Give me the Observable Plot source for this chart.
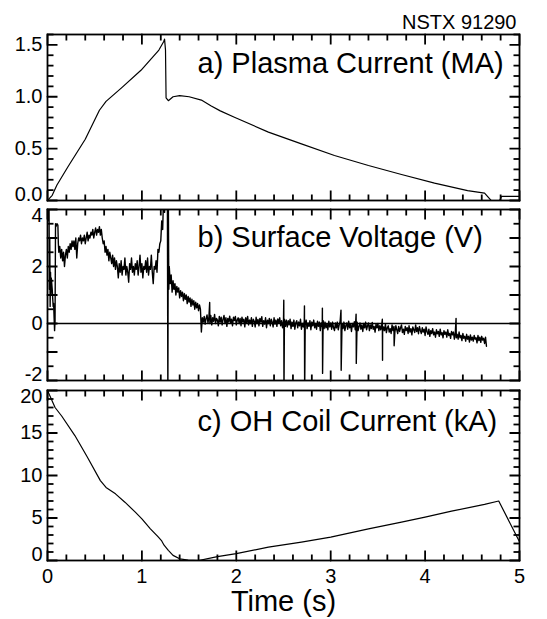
<!DOCTYPE html>
<html><head><meta charset="utf-8">
<script src="https://cdn.jsdelivr.net/npm/d3@7"></script>
<script src="https://cdn.jsdelivr.net/npm/@observablehq/plot@0.6"></script>
<style>
body{margin:0;background:#fff;}
#chart{position:relative;width:547px;height:619px;font-family:"Liberation Sans",Arial,Helvetica,sans-serif;}
#chart svg{position:absolute;left:0;overflow:visible;}
</style></head><body><div id="chart"></div>
<script>
// ---- data ----
const shotLabel = "NSTX 91290";
const xAxisLabel = "Time (s)";
const titles = ["a) Plasma Current (MA)", "b) Surface Voltage (V)", "c) OH Coil Current (kA)"];
const timeTicks = [0, 1, 2, 3, 4, 5];
const ipTicks = [0, 0.5, 1.0, 1.5];
const vTicks = [-2, 0, 2, 4];
const ohTicks = [0, 5, 10, 15, 20];

// a) plasma current (MA)
const ipTime = [0, 0.05, 0.10, 0.22, 0.40, 0.55, 0.62, 0.79, 0.99, 1.18, 1.23, 1.24, 1.25, 1.256, 1.28, 1.33, 1.40, 1.50, 1.63, 1.73, 1.83, 1.98, 2.34, 2.69, 3.04, 3.40, 3.75, 4.10, 4.45, 4.63, 4.70, 4.76, 4.79, 4.81, 5.0];
const ipValue = [0, 0.05, 0.15, 0.33, 0.59, 0.87, 0.955, 1.09, 1.255, 1.45, 1.53, 1.555, 1.45, 0.99, 0.962, 1.0, 1.011, 1.0, 0.968, 0.913, 0.864, 0.803, 0.659, 0.546, 0.434, 0.337, 0.251, 0.167, 0.096, 0.071, 0.0, -0.02, 0.0, 0.04, 0.04];

// b) surface voltage (V): irregular points
const vPointTime = [0, 0.008, 0.012, 0.016, 0.02, 0.024, 0.028, 0.032, 0.036, 0.04, 0.045, 0.05, 0.055, 0.06, 0.065, 0.07, 0.075, 0.08, 0.085, 0.09, 0.10, 0.11, 0.115, 0.12, 0.13,
  1.17, 1.18, 1.19, 1.20, 1.21, 1.22, 1.23, 1.24, 1.25, 1.26, 1.27, 1.275, 1.28, 1.285, 1.63];
const vPointVolt = [4.5, 4.3, 3.6, 4.4, 1.2, 3.0, 0.6, 1.8, 1.0, 1.6, 1.4, 1.2, 0.9, 0.6, 0.7, 0.2, -0.25, 0.1, 3.5, 3.4, 3.5, 3.45, 2.8, 2.5, 2.7,
  2.6, 2.5, 2.8, 2.9, 3.6, 3.3, 4.5, 3.9, 4.5, 4.5, 4.5, -2.5, 4.5, 1.2, -0.3];
const vSampleStep = 0.01;
const vStartA = 0.14;
const vSampleA = [
  2.3, 2.6, 2.2, 2.5, 2.0, 2.4, 2.6, 2.3, 2.7, 2.5,
  2.8, 2.6, 2.9, 2.7, 2.9, 2.6, 3.0, 2.3, 2.8, 3.0,
  2.9, 3.1, 2.8, 3.0, 2.9, 3.1, 2.8, 3.0, 3.2, 2.9,
  3.1, 3.0, 3.2, 3.1, 3.3, 3.0, 3.2, 3.35, 3.1, 3.3,
  3.2, 3.4, 3.1, 3.3, 3.0, 2.8, 2.9, 2.5, 2.7, 2.4,
  2.6, 2.2, 2.5, 2.3, 2.1, 2.4, 2.0, 2.3, 1.9, 2.2,
  2.0, 1.6, 2.1, 1.8, 2.2, 1.7, 2.0, 1.9, 2.3, 1.7,
  2.0, 1.8, 1.45, 2.1, 1.9, 2.3, 1.8, 2.0, 1.7, 2.1,
  1.9, 2.2, 1.7, 2.0, 2.4, 1.8, 2.1, 1.6, 2.0, 1.9,
  2.2, 1.8, 2.3, 1.7, 2.0, 1.9, 2.4, 1.8, 1.4, 2.0,
  1.9, 2.2, 1.8];
const vStartB = 1.29;
const vSampleB = [
  2.0, 1.4, 1.7, 1.1, 1.5, 1.2, 1.4, 1.0, 1.3, 1.1,
  1.25, 0.9, 1.15, 0.95, 1.1, 0.8, 1.05, 0.85, 1.0, 0.7,
  0.95, 0.75, 0.9, 0.6, 0.85, 0.65, 0.8, 0.5, 0.75, 0.55,
  0.7, 0.45, 0.65, 0.5];
const vStartC = 1.64;
const vSampleC = [
  0.20, 0.05, 0.25, -0.02, 0.18, 0.30, 0.02, 0.22, 0.10, 0.28,
  -0.05, 0.20, 0.08, 0.32, 0.00, 0.18, 0.12, -0.08, 0.25, 0.05,
  0.22, -0.05, 0.15, 0.28, 0.00, 0.20, -0.10, 0.18, 0.05, 0.26,
  0.02, 0.15, -0.08, 0.22, 0.10, 0.25, -0.05, 0.12, 0.20, 0.00,
  0.18, -0.08, 0.22, 0.05, 0.15, -0.12, 0.20, 0.02, 0.25, -0.05,
  0.12, 0.00, 0.20, -0.10, 0.15, 0.08, -0.12, 0.22, 0.00, 0.14,
  -0.08, 0.18, 0.05, 0.24, -0.10, 0.10, -0.02, 0.20, -0.15, 0.12,
  0.00, 0.18, -0.08, 0.15, 0.05, -0.12, 0.20, -0.02, 0.12, -0.10,
  0.16, 0.02, 0.20, -0.08, 0.10, -0.15, 0.08, 0.15, -0.10, 0.12,
  -0.12, 0.10, -0.05, 0.15, -0.18, 0.05, -0.10, 0.12, -0.20, 0.02,
  0.10, -0.15, 0.05, -0.08, 0.15, -0.20, 0.00, -0.12, 0.08, -0.05,
  0.12, -0.18, 0.02, -0.10, 0.10, -0.22, 0.05, -0.08, 0.12, -0.15,
  0.00, -0.20, 0.08, -0.10, 0.05, -0.25, 0.02, -0.12, 0.10, -0.18,
  0.05, -0.15, -0.02, -0.22, 0.08, -0.12, 0.02, -0.20, 0.05, -0.15,
  -0.25, 0.02, -0.15, 0.05, -0.22, -0.05, 0.08, -0.20, 0.00, -0.18,
  0.05, -0.25, -0.08, 0.02, -0.20, 0.08, -0.15, -0.02, -0.28, 0.00,
  -0.12, 0.06, -0.22, -0.05, 0.05, -0.25, -0.10, 0.02, -0.20, -0.05,
  -0.28, 0.00, -0.15, 0.05, -0.22, -0.08, 0.02, -0.25, -0.05, -0.18,
  0.04, -0.20, -0.10, -0.30, -0.02, -0.15, 0.00, -0.25, -0.08, -0.22,
  -0.05, -0.30, -0.12, -0.25, -0.02, -0.32, -0.15, -0.08, -0.30, -0.18,
  -0.35, -0.05, -0.25, -0.12, -0.30, -0.08, -0.22, -0.35, -0.10, -0.28,
  -0.15, -0.05, -0.32, -0.20, -0.38, -0.10, -0.25, -0.15, -0.35, -0.08,
  -0.30, -0.18, -0.40, -0.12, -0.22, -0.32, -0.05, -0.28, -0.15, -0.36,
  -0.10, -0.25, -0.35, -0.15, -0.30, -0.20, -0.42, -0.12, -0.28, -0.38,
  -0.20, -0.45, -0.25, -0.35, -0.18, -0.40, -0.30, -0.48, -0.22, -0.36,
  -0.28, -0.45, -0.20, -0.40, -0.32, -0.50, -0.25, -0.38, -0.30, -0.48,
  -0.22, -0.42, -0.35, -0.52, -0.28, -0.40, -0.30, -0.55, -0.32, -0.45,
  -0.38, -0.55, -0.30, -0.50, -0.42, -0.60, -0.35, -0.52, -0.45, -0.62,
  -0.38, -0.55, -0.45, -0.65, -0.40, -0.58, -0.48, -0.62, -0.42, -0.55,
  -0.50, -0.68, -0.42, -0.60, -0.48, -0.66, -0.45, -0.58, -0.52, -0.70,
  -0.48, -0.80];
const spikeTime = [1.72, 2.505, 2.724, 2.914, 3.111, 3.271, 3.549, 3.672, 4.33];
const spikeHigh = [0.74, 0.82, 0.62, 0.54, 0.47, 0.33, 0.15, -0.10, 0.18];
const spikeLow = [0.00, -2.5, -2.5, -1.75, -1.64, -1.40, -1.29, -0.78, -0.50];

// c) OH coil current (kA)
const ohTime = [0, 0.08, 0.15, 0.29, 0.42, 0.56, 0.62, 0.72, 0.82, 0.93, 1.0, 1.09, 1.17, 1.21, 1.235, 1.25, 1.28, 1.33, 1.40, 1.49, 1.60, 1.80, 2.0, 2.34, 2.69, 3.0, 3.40, 3.75, 4.0, 4.28, 4.63, 4.78, 5.0];
const ohValue = [20, 18.0, 17.0, 14.7, 12.2, 9.4, 8.6, 7.84, 6.86, 5.69, 4.9, 3.73, 2.8, 2.3, 1.8, 1.6, 1.2, 0.6, 0.2, 0.05, 0.0, 0.45, 0.8, 1.57, 2.16, 2.75, 3.73, 4.51, 5.1, 5.8, 6.6, 7.0, 2.2];

// ---- drawing ----
const FONT = "Liberation Sans, Arial, Helvetica, sans-serif";
const W = 547, frameLeft = 47, frameRight = 519;
const zip = (xs, ys) => xs.map((x, i) => ({x, y: ys[i]}));
const sampled = (start, vals) => vals.map((y, i) => ({x: +(start + i * vSampleStep).toFixed(4), y}));

const voltSeries = [
  ...zip(vPointTime, vPointVolt),
  ...sampled(vStartA, vSampleA),
  ...sampled(vStartB, vSampleB),
  ...sampled(vStartC, vSampleC),
  ...spikeTime.flatMap((t, i) => [{x: t - 0.002, y: spikeHigh[i]}, {x: t, y: spikeLow[i]}])
].sort((a, b) => a.x - b.x);

function panel({top, height, mt, mb, domain, major, minor, labels, fmt, series, lineWidth = 1.2, title, titleDy, extra = [], after = []}) {
  const plotW = frameRight - frameLeft, plotH = height - mt - mb;
  const [y0, y1] = domain;
  const ky = (y1 - y0) / plotH, kx = 5 / plotW;   // data units per pixel
  const lo = labels[0], hi = labels[labels.length - 1];
  const edgeLo = lo === y0, edgeHi = hi === y1;
  const minorX = d3.range(0, 5.001, 0.2).map(d => +d.toFixed(2));
  const segs = [];
  const addX = (vals, len) => vals.forEach(t => {
    segs.push({x: t, y: y0, k: `xb${t}`}, {x: t, y: y0 + len * ky, k: `xb${t}`});
    segs.push({x: t, y: y1, k: `xt${t}`}, {x: t, y: y1 - len * ky, k: `xt${t}`});
  });
  const addY = (vals, len) => vals.forEach(v => {
    segs.push({x: 0, y: v, k: `yl${v}`}, {x: len * kx, y: v, k: `yl${v}`});
    segs.push({x: 5, y: v, k: `yr${v}`}, {x: 5 - len * kx, y: v, k: `yr${v}`});
  });
  addX(minorX, 6); addX(timeTicks, 10); addY(minor, 6); addY(major, 10);
  const lab = {frameAnchor: "left", textAnchor: "end", dx: -5, fontSize: 20, text: fmt, y: d => d};
  const marks = [
    ...extra,
    Plot.line(series, {x: "x", y: "y", stroke: "black", strokeWidth: lineWidth, clip: true}),
    Plot.line(segs, {x: "x", y: "y", z: "k", stroke: "black", strokeWidth: 1.8, strokeLinecap: "butt"}),
    Plot.frame({stroke: "black", strokeWidth: 1.8}),
    Plot.text(labels.filter(d => !((edgeLo && d === lo) || (edgeHi && d === hi))), lab),
    ...(edgeLo ? [Plot.text([lo], {...lab, dy: -6})] : []),
    ...(edgeHi ? [Plot.text([hi], {...lab, dy: 6})] : []),
    Plot.text([title], {text: d => d, frameAnchor: "top-left", textAnchor: "start", lineAnchor: "bottom", dx: 150, dy: titleDy, fontSize: 29}),
    ...after
  ];
  const svg = Plot.plot({
    width: W, height,
    marginLeft: frameLeft, marginRight: W - frameRight, marginTop: mt, marginBottom: mb,
    x: {domain: [0, 5], axis: null},
    y: {domain, axis: null},
    style: {background: "transparent", overflow: "visible", fontFamily: FONT},
    marks
  });
  svg.style.top = top + "px";
  return svg;
}

const chart = document.getElementById("chart");

chart.appendChild(panel({
  top: 0, height: 210, mt: 34, mb: 10,
  domain: [0, 1.6], major: ipTicks, minor: d3.range(0, 1.601, 0.1).map(d => +d.toFixed(2)),
  labels: ipTicks, fmt: d3.format(".1f"),
  series: zip(ipTime, ipValue), title: titles[0], titleDy: 38,
  after: [
    Plot.text([shotLabel], {text: d => d, frameAnchor: "top-right", textAnchor: "end", lineAnchor: "bottom", dx: -3, dy: -6, fontSize: 20})
  ]
}));

chart.appendChild(panel({
  top: 200, height: 190, mt: 9, mb: 10,
  domain: [-2, 4], major: d3.range(-2, 4.001, 1), minor: d3.range(-2, 4.001, 0.5),
  labels: vTicks, fmt: d => String(d),
  series: voltSeries, lineWidth: 1.4, title: titles[1], titleDy: 37,
  extra: [Plot.ruleY([0], {stroke: "black", strokeWidth: 1.3})]
}));

chart.appendChild(panel({
  top: 380, height: 239, mt: 10, mb: 59,
  domain: [0, 20], major: ohTicks, minor: d3.range(0, 20.001, 1),
  labels: ohTicks, fmt: d => String(d),
  series: zip(ohTime, ohValue), title: titles[2], titleDy: 40,
  after: [
    Plot.text(timeTicks, {x: d => d, text: d => String(d), frameAnchor: "bottom", lineAnchor: "top", dy: 8, fontSize: 20}),
    Plot.text([xAxisLabel], {text: d => d, frameAnchor: "bottom", lineAnchor: "bottom", dy: 50, fontSize: 29})
  ]
}));
</script></body></html>
